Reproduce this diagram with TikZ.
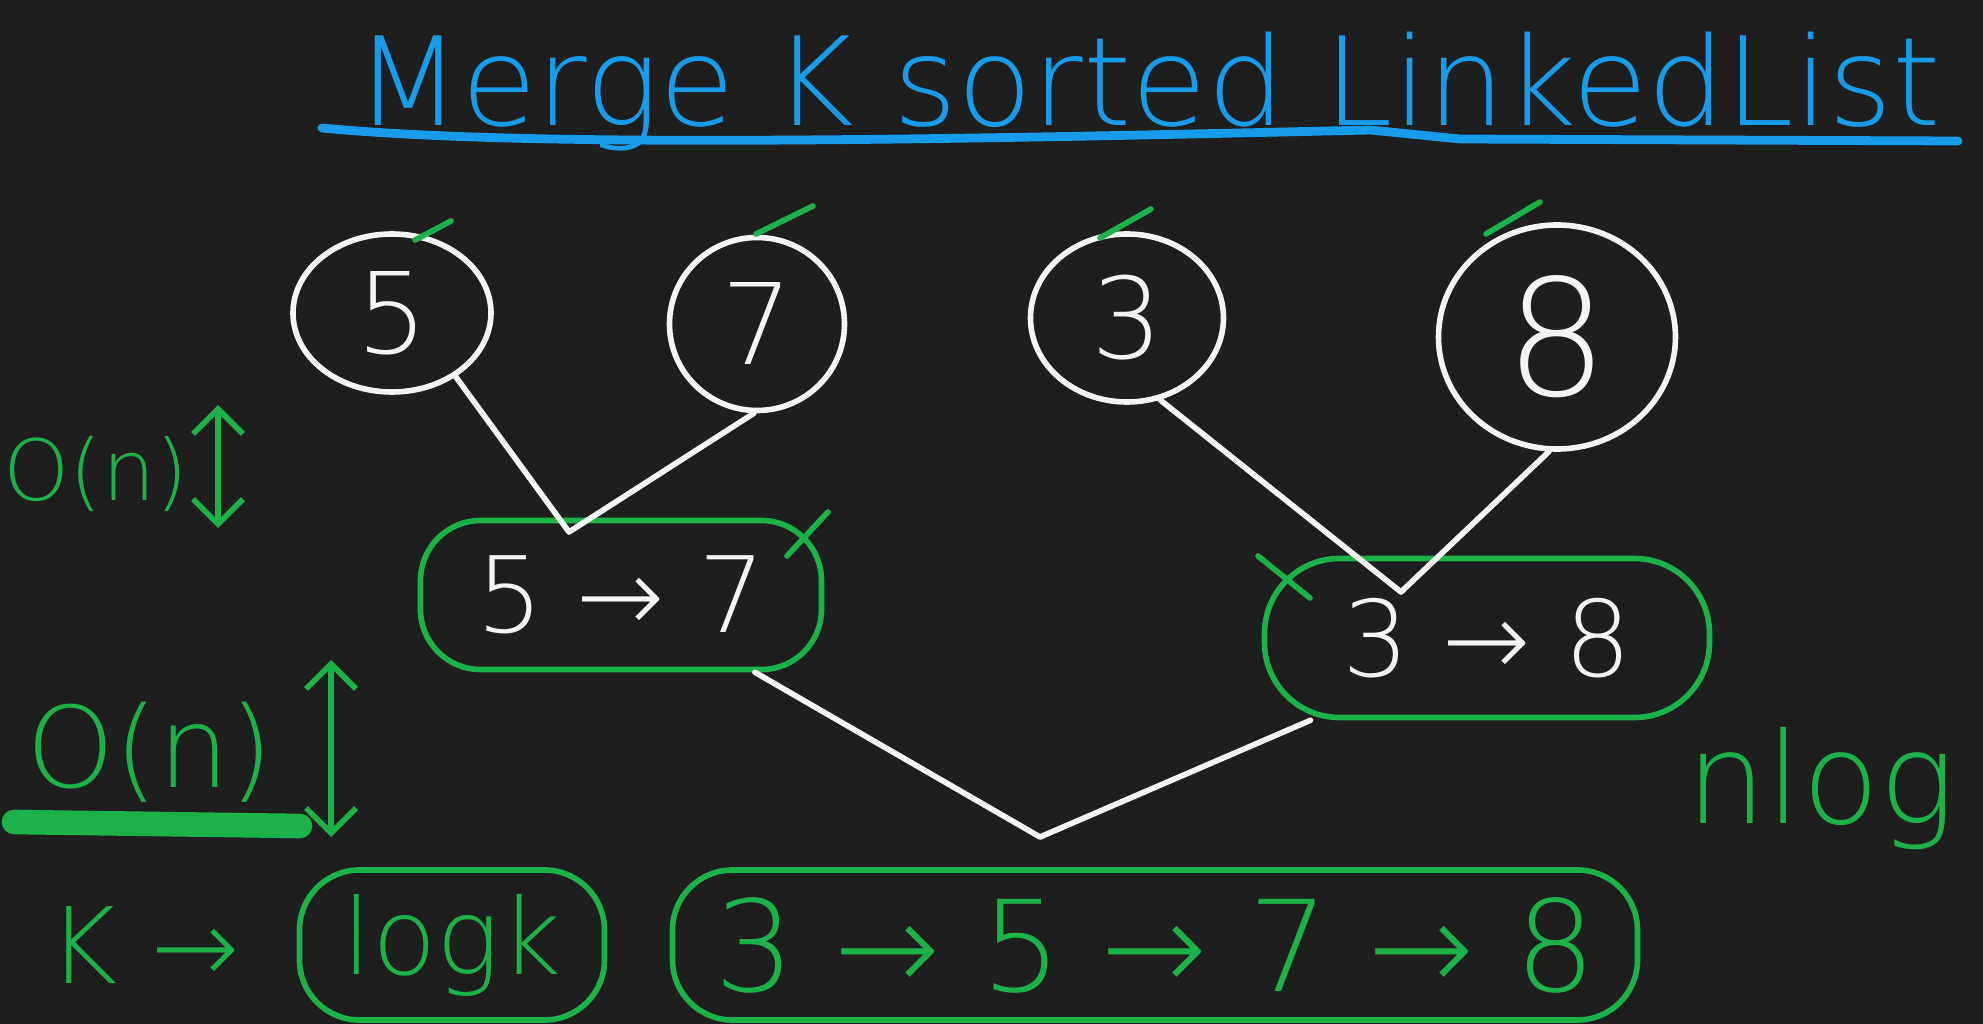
\documentclass[tikz,border=0pt]{standalone}
\usepackage{fontspec}
\setmainfont{DejaVu Sans}
\newfontfamily\handfont{DejaVu Sans ExtraLight}
\usetikzlibrary{arrows.meta,shapes.geometric,calc}
\definecolor{kbg}{HTML}{1E1E1E}
\definecolor{kgreen}{HTML}{1DB14A}
\definecolor{kblue}{HTML}{189CEA}
\definecolor{kwhite}{HTML}{F4F4F4}
\tikzset{
  listnode/.style={ellipse, draw=kwhite, line width=1.6pt, text=kwhite, inner sep=0pt,
                   font=\handfont\fontsize{32}{32}\selectfont},
  mergebox/.style={rectangle, rounded corners=6mm, draw=kgreen, line width=1.6pt, text=kwhite,
                   inner sep=0pt, font=\handfont\fontsize{30}{30}\selectfont},
  resbox/.style={mergebox, text=kgreen, font=\handfont\fontsize{36}{36}\selectfont},
  note/.style={text=kgreen, inner sep=0pt, font=\handfont\fontsize{30}{30}\selectfont},
  ttlnode/.style={text=kblue, inner sep=0pt, font=\handfont\fontsize{35}{35}\selectfont},
  tick/.style={draw=kgreen, line width=1.6pt, line cap=round},
  wire/.style={draw=kwhite, line width=1.6pt, line cap=round, line join=round},
  dbl/.style={{Straight Barb[length=2.5mm,width=5mm]}-{Straight Barb[length=2.5mm,width=5mm]},
              draw=kgreen, line width=1.6pt},
}
\begin{document}
\begin{tikzpicture}[x=0.1mm,y=-0.1mm]
\fill[kbg] (0,0) rectangle (1983,1024);
\useasboundingbox (0,0) rectangle (1983,1024);

\node[ttlnode,anchor=base] (ttl) at (1148,126) {Merge K sorted LinkedList};
\draw[kblue,line width=2.5pt,line cap=round] (322,128) .. controls (520,147) and (900,141) .. (1370,130) -- (1460,139) -- (1958,141);

\node[listnode,minimum width=19.8mm,minimum height=15.8mm] (c5) at (392,313) {5};
\node[listnode,minimum width=17.5mm,minimum height=17.3mm] (c7) at (757,324) {7};
\node[listnode,minimum width=19.3mm,minimum height=16.8mm] (c3) at (1127,318) {3};
\node[listnode,minimum width=23.7mm,minimum height=22.4mm,font=\handfont\fontsize{46}{46}\selectfont] (c8) at (1557,337) {8};

\node[mergebox,minimum width=40.1mm,minimum height=14.9mm] (m57) at (621,595) {5 → 7};
\node[mergebox,rounded corners=7.5mm,minimum width=44.5mm,minimum height=15.9mm] (m38) at (1487,638) {3 → 8};
\node[resbox,minimum width=96.5mm,minimum height=15mm] (res) at (1155,945) {3 → 5 → 7 → 8};
\node[resbox,minimum width=30.5mm,minimum height=15mm,font=\handfont\fontsize{30}{30}\selectfont] (lgk) at (452,945) {logk};

\coordinate (v57) at (569,532);
\coordinate (v38) at (1401,592);
\coordinate (vres) at (1040,837);
\draw[wire] (c5.-45) -- (v57) -- (c7.-92);
\draw[wire] (c3.-68) -- (v38) -- (c8.-94);
\draw[wire] (m57.-30) -- (vres) -- (m38.-155);

\draw[tick] (415,240) -- (451,221);
\draw[tick] (756,234) -- (813,206);
\draw[tick] (1100,238) -- (1151,209);
\draw[tick] (1486,234) -- (1540,202);
\draw[tick] (787,556) -- (828,512);
\draw[tick] (1258,556) -- (1310,598);

\node[note,font=\handfont\fontsize{24}{24}\selectfont] (on1) at (96,474) {O(n)};
\coordinate (a1t) at (218,405);
\coordinate (a1b) at (218,528);
\draw[dbl] (a1b) -- (a1t);
\node[note,font=\handfont\fontsize{32}{32}\selectfont] (on2) at (150,752) {O(n)};
\draw[kgreen,line width=7pt,line cap=round] (14,822) -- (300,826);
\coordinate (a2t) at (331,660);
\coordinate (a2b) at (331,837);
\draw[dbl] (a2b) -- (a2t);
\node[note] (kk) at (144,945) {K →};
\node[note,anchor=base west,font=\handfont\fontsize{36}{36}\selectfont] (nlg) at (1686,823) {nlog};
\end{tikzpicture}
\end{document}
